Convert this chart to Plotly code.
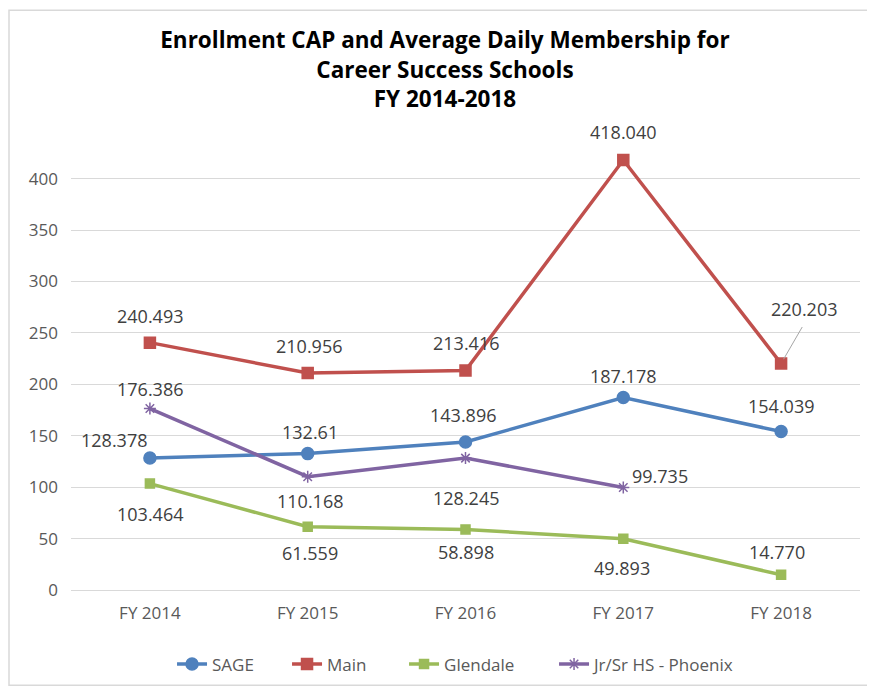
import plotly.graph_objects as go

categories = ["FY 2014", "FY 2015", "FY 2016", "FY 2017", "FY 2018"]
sage = [128.378, 132.61, 143.896, 187.178, 154.039]
sage_labels = ["128.378", "132.61", "143.896", "187.178", "154.039"]
main = [240.493, 210.956, 213.416, 418.040, 220.203]
main_labels = ["240.493", "210.956", "213.416", "418.040", "220.203"]
glendale = [103.464, 61.559, 58.898, 49.893, 14.770]
glendale_labels = ["103.464", "61.559", "58.898", "49.893", "14.770"]
phoenix = [176.386, 110.168, 128.245, 99.735, None]
phoenix_labels = ["176.386", "110.168", "128.245", "99.735", ""]
y_ticks = [0, 50, 100, 150, 200, 250, 300, 350, 400]

font = "Open Sans"
label_font = dict(family=font, size=18, color="#404040")

W, H = 867, 686
L, R, T, B = 63, 15, 131, 100
PW, PH = W - L - R, H - T - B

fig = go.Figure()

def add(name, vals, color, symbol, msize, legw):
    fig.add_trace(go.Scatter(
        x=categories, y=vals, name=name, mode="lines+markers",
        line=dict(color=color, width=3.5),
        marker=dict(color=color, symbol=symbol, size=msize,
                    line=dict(color=color, width=1.5)),
        cliponaxis=False, legendwidth=legw,
    ))

add("SAGE", sage, "#4F81BD", "circle", 12, 70)
add("Main", main, "#C0504D", "square", 11, 72)
add("Glendale", glendale, "#9BBB59", "square", 9, 105)
add("Jr/Sr HS - Phoenix", phoenix, "#8064A2", "asterisk-open", 10, None)

# label offsets in pixels (dx right, dy down) relative to the point
label_sets = [
    (sage, sage_labels, [-36, 2, -3, 0, 0], [-18, -22, -27, -21, -26]),
    (main, main_labels, [0, 1, 0, 0, 23], [-27, -27, -28, -28, -55]),
    (glendale, glendale_labels, [0, 2, 0, -1, -4], [30, 26, 23, 29, -23]),
    (phoenix, phoenix_labels, [0, 2, 0, 37, 0], [-20, 24, 40, -11, 0]),
]
for vals, labels, dxs, dys in label_sets:
    for cat, v, t, dx, dy in zip(categories, vals, labels, dxs, dys):
        if v is None or not t:
            continue
        fig.add_annotation(x=cat, y=v, text=t, showarrow=False,
                           xshift=dx, yshift=-dy, font=label_font)

# leader line for the FY 2018 Main label
fig.add_annotation(x=categories[4], y=main[4], text="",
                   showarrow=True, arrowhead=0, arrowwidth=1, arrowcolor="#A6A6A6",
                   ax=22, ay=-38, standoff=5)

fig.add_shape(type="rect", xref="paper", yref="paper",
              x0=(1 - L) / PW, x1=(W - 6 - L) / PW,
              y0=-(H - 4 - (T + PH)) / PH,
              y1=(T + PH - 1) / PH,
              line=dict(color="#D9D9D9", width=1.5), fillcolor="rgba(0,0,0,0)")

fig.update_layout(
    width=W, height=H,
    paper_bgcolor="white", plot_bgcolor="white",
    margin=dict(l=L, r=R, t=T, b=B),
    title=dict(
        text="<b>Enrollment CAP and Average Daily Membership for<br>Career Success Schools<br>FY 2014-2018</b>",
        x=0.504, xanchor="center", y=0.941, yanchor="top",
        font=dict(family=font, size=22.5, color="#000000"),
    ),
    showlegend=True,
    legend=dict(orientation="h", x=0.488, xanchor="center", y=-0.125, yanchor="top",
                font=dict(family=font, size=17, color="#595959"),
                tracegroupgap=0),
    xaxis=dict(showgrid=False, showline=True, linecolor="#D9D9D9", linewidth=1,
               tickfont=dict(family=font, size=17, color="#595959"),
               ticks="", range=[-0.5, 4.5], zeroline=False, ticklabelstandoff=8),
    yaxis=dict(range=[0, 438.5], tickvals=y_ticks, showgrid=True,
               gridcolor="#D9D9D9", gridwidth=1, zeroline=False,
               showline=False, ticks="", ticklabelstandoff=12,
               tickfont=dict(family=font, size=17, color="#595959")),
)

fig.write_html("out.html")
